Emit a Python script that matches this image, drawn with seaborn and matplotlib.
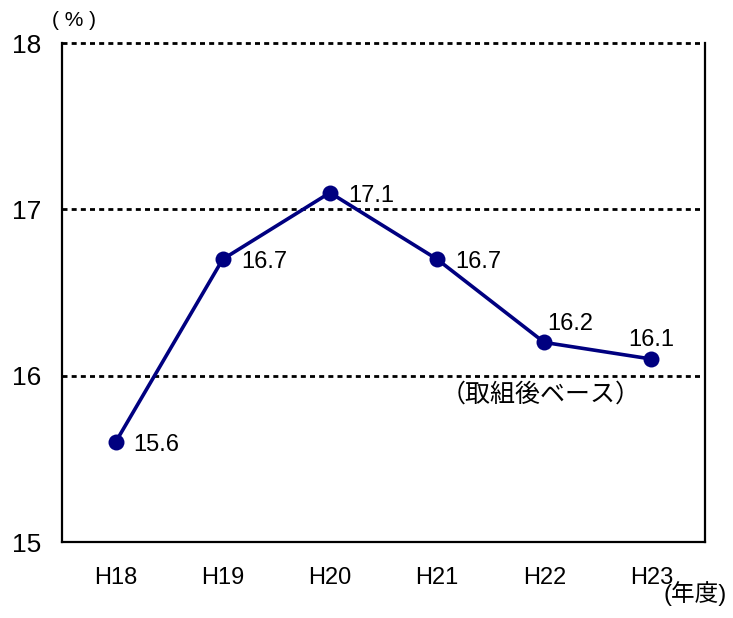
import matplotlib
matplotlib.use("Agg")
import matplotlib.pyplot as plt
import seaborn as sns
import pandas as pd

# データ
nendo = ["H18", "H19", "H20", "H21", "H22", "H23"]
ritsu = [15.6, 16.7, 17.1, 16.7, 16.2, 16.1]

sns.set_theme(style="white")
plt.rcParams["font.family"] = ["Liberation Sans", "Noto Sans CJK JP"]
plt.rcParams["text.color"] = "black"
plt.rcParams["xtick.color"] = "black"
plt.rcParams["ytick.color"] = "black"

df = pd.DataFrame({"nendo": nendo, "ritsu": ritsu})

fig = plt.figure(figsize=(7.33, 6.18), dpi=100)
ax = fig.add_axes([62 / 733, 1 - 542 / 618, 643 / 733, 499 / 618])

for y in [16, 17, 18]:
    ax.axhline(y, color="black", linestyle=(0, (1.8, 1.5)), linewidth=2.0,
               zorder=1, clip_on=False)

sns.lineplot(data=df, x="nendo", y="ritsu", ax=ax, color="#000080",
             linewidth=2.6, marker="o", markersize=11.5, markeredgewidth=0,
             sort=False, zorder=3)

# ラベルのずらし量 (points, ベースライン基準)
offsets = [(13, -6.6, "left"), (13, -6.6, "left"), (13, -6.6, "left"),
           (13, -6.6, "left"), (19, 8.6, "center"), (0, 9.4, "center")]
for i, (v, (dx, dy, ha)) in enumerate(zip(ritsu, offsets)):
    ax.annotate(f"{v:.1f}", (i, v), xytext=(dx, dy), textcoords="offset points",
                ha=ha, va="baseline", fontsize=17)

ax.set_xlim(-0.5, 5.5)
ax.set_ylim(15, 18)
ax.set_yticks([15, 16, 17, 18])
ax.set_xlabel("")
ax.set_ylabel("")
ax.tick_params(axis="y", labelsize=19, length=0, pad=15)
ax.tick_params(axis="x", labelsize=17, length=0, pad=18)

for s in ["left", "bottom", "right"]:
    ax.spines[s].set_color("black")
    ax.spines[s].set_linewidth(1.6)
ax.spines["top"].set_visible(False)

fig.text(74 / 733, 1 - 21 / 618, "( % )", fontsize=15, ha="center", va="center")
fig.text(695 / 733, 1 - 594 / 618, "(年度)", fontsize=17, ha="center", va="center")
ax.text(3.97, 15.885, "（取組後ベース）", fontsize=18, ha="center", va="center")

fig.savefig("out.png", dpi=100)
